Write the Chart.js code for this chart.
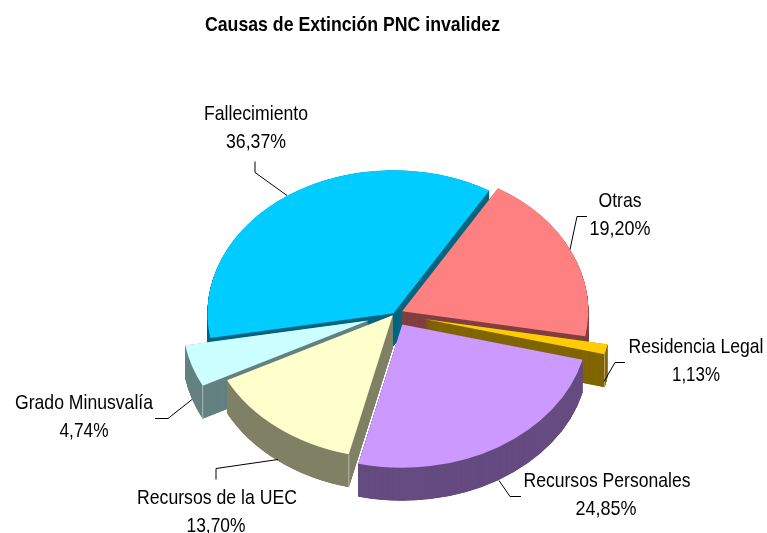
<!DOCTYPE html>
<html>
<head>
<meta charset="utf-8">
<style>
  html, body { margin: 0; padding: 0; background: #fff; }
  #wrap { width: 767px; height: 533px; }
</style>
<script src="https://cdn.jsdelivr.net/npm/chart.js@4/dist/chart.umd.min.js"></script>
</head>
<body>
<div id="wrap"><canvas id="chart" width="767" height="533"></canvas></div>
<script>
var TITLE = "Causas de Extinción PNC invalidez";
var CATEGORIES = ["Otras", "Residencia Legal", "Recursos Personales", "Recursos de la UEC", "Grado Minusvalía", "Fallecimiento"];
var VALUES = [19.20, 1.13, 24.85, 13.70, 4.74, 36.37];
var VALUE_LABELS = ["19,20%", "1,13%", "24,85%", "13,70%", "4,74%", "36,37%"];

var TOP_COLORS = ["#FF8080", "#FFCC00", "#CC99FF", "#FFFFCC", "#CCFFFF", "#00CCFF"];
var SIDE_COLORS = ["#804040", "#806600", "#664C80", "#808066", "#668080", "#006680"];

// pie look: flattened and extruded, slices pulled out by hand
var CENTER_X = 394;
var CENTER_Y = 314;
var RADIUS = 186;
var FLATTEN = 0.77;
var DEPTH = 33;
var EXPLODE = [9, 31, 16, 2, 27, 1];
var PAINT_ORDER = [5, 0, 1, 4, 3, 2];
// slices with a pale highlight down their front corner
var LIT_CORNERS = { 1: "endAngle", 3: "startAngle", 4: "startAngle" };

// [name x, name width, name baseline, value x, value width, value baseline]
var LABEL_BOXES = [
  [620, 43, 207, 620, 61, 235],
  [696, 135, 353, 696, 48, 381],
  [607, 167, 487, 606, 61, 515],
  [217, 160, 504, 216, 59, 532],
  [84, 138, 409, 84, 49, 437],
  [256, 104, 120, 256, 60, 148],
];
var LEADERS = [
  [[587, 216], [577, 216], [570, 249]],
  [[625, 362], [615, 362], [604, 381]],
  [[521, 496], [510, 496], [499, 480]],
  [[216, 479], [216, 468], [278, 459]],
  [[155, 418], [168, 418], [192, 399]],
  [[255, 161], [255, 172], [287, 195]],
];

var pie3d = {
  id: "pie3d",
  beforeDatasetsDraw: function (chart) {
    var ctx = chart.ctx;
    var arcs = chart.getDatasetMeta(0).data;

    function drawFlat(el, dx, dy, d) {
      ctx.save();
      ctx.translate(CENTER_X, CENTER_Y + d);
      ctx.scale(1, FLATTEN);
      ctx.translate(dx - el.x, dy - el.y);
      el.draw(ctx);
      ctx.restore();
    }

    PAINT_ORDER.forEach(function (i) {
      var arc = arcs[i];
      var mid = (arc.startAngle + arc.endAngle) / 2;
      var dx = Math.cos(mid) * EXPLODE[i];
      var dy = Math.sin(mid) * EXPLODE[i];

      var side = Object.create(arc);
      side.options = Object.assign({}, arc.options, { backgroundColor: SIDE_COLORS[i] });

      // small steps so thin wedge tips still fill in
      for (var d = DEPTH; d > 0; d -= 0.25) {
        drawFlat(side, dx, dy, d);
      }

      if (LIT_CORNERS[i]) {
        var a = arc[LIT_CORNERS[i]];
        var x = CENTER_X + dx + Math.cos(a) * arc.outerRadius;
        var y = CENTER_Y + (dy + Math.sin(a) * arc.outerRadius) * FLATTEN;
        ctx.save();
        ctx.strokeStyle = "rgba(255, 255, 255, 0.45)";
        ctx.lineWidth = 1;
        ctx.beginPath();
        ctx.moveTo(x, y);
        ctx.lineTo(x, y + DEPTH);
        ctx.stroke();
        ctx.restore();
      }

      drawFlat(arc, dx, dy, 0);
    });
    return false;
  },
  afterDraw: function (chart) {
    var ctx = chart.ctx;
    ctx.save();
    ctx.textAlign = "center";
    ctx.textBaseline = "alphabetic";
    ctx.fillStyle = "#000";

    ctx.font = "bold 21px 'Liberation Sans'";
    ctx.fillText(TITLE, 352.5, 31, 295);

    ctx.font = "21px 'Liberation Sans'";
    CATEGORIES.forEach(function (name, i) {
      var b = LABEL_BOXES[i];
      ctx.fillText(name, b[0], b[2], b[1]);
      ctx.fillText(VALUE_LABELS[i], b[3], b[5], b[4]);
    });

    ctx.strokeStyle = "#000";
    ctx.lineWidth = 1;
    LEADERS.forEach(function (pts) {
      ctx.beginPath();
      ctx.moveTo(pts[0][0], pts[0][1] + 0.5);
      ctx.lineTo(pts[1][0], pts[1][1] + 0.5);
      ctx.lineTo(pts[2][0], pts[2][1] + 0.5);
      ctx.stroke();
    });
    ctx.restore();
  },
};

new Chart(document.getElementById("chart"), {
  type: "pie",
  data: {
    labels: CATEGORIES,
    datasets: [{ data: VALUES, backgroundColor: TOP_COLORS, borderWidth: 0 }],
  },
  options: {
    responsive: false,
    animation: false,
    rotation: 31,
    radius: RADIUS,
    plugins: { legend: { display: false }, tooltip: { enabled: false } },
  },
  plugins: [pie3d],
});
</script>
</body>
</html>
